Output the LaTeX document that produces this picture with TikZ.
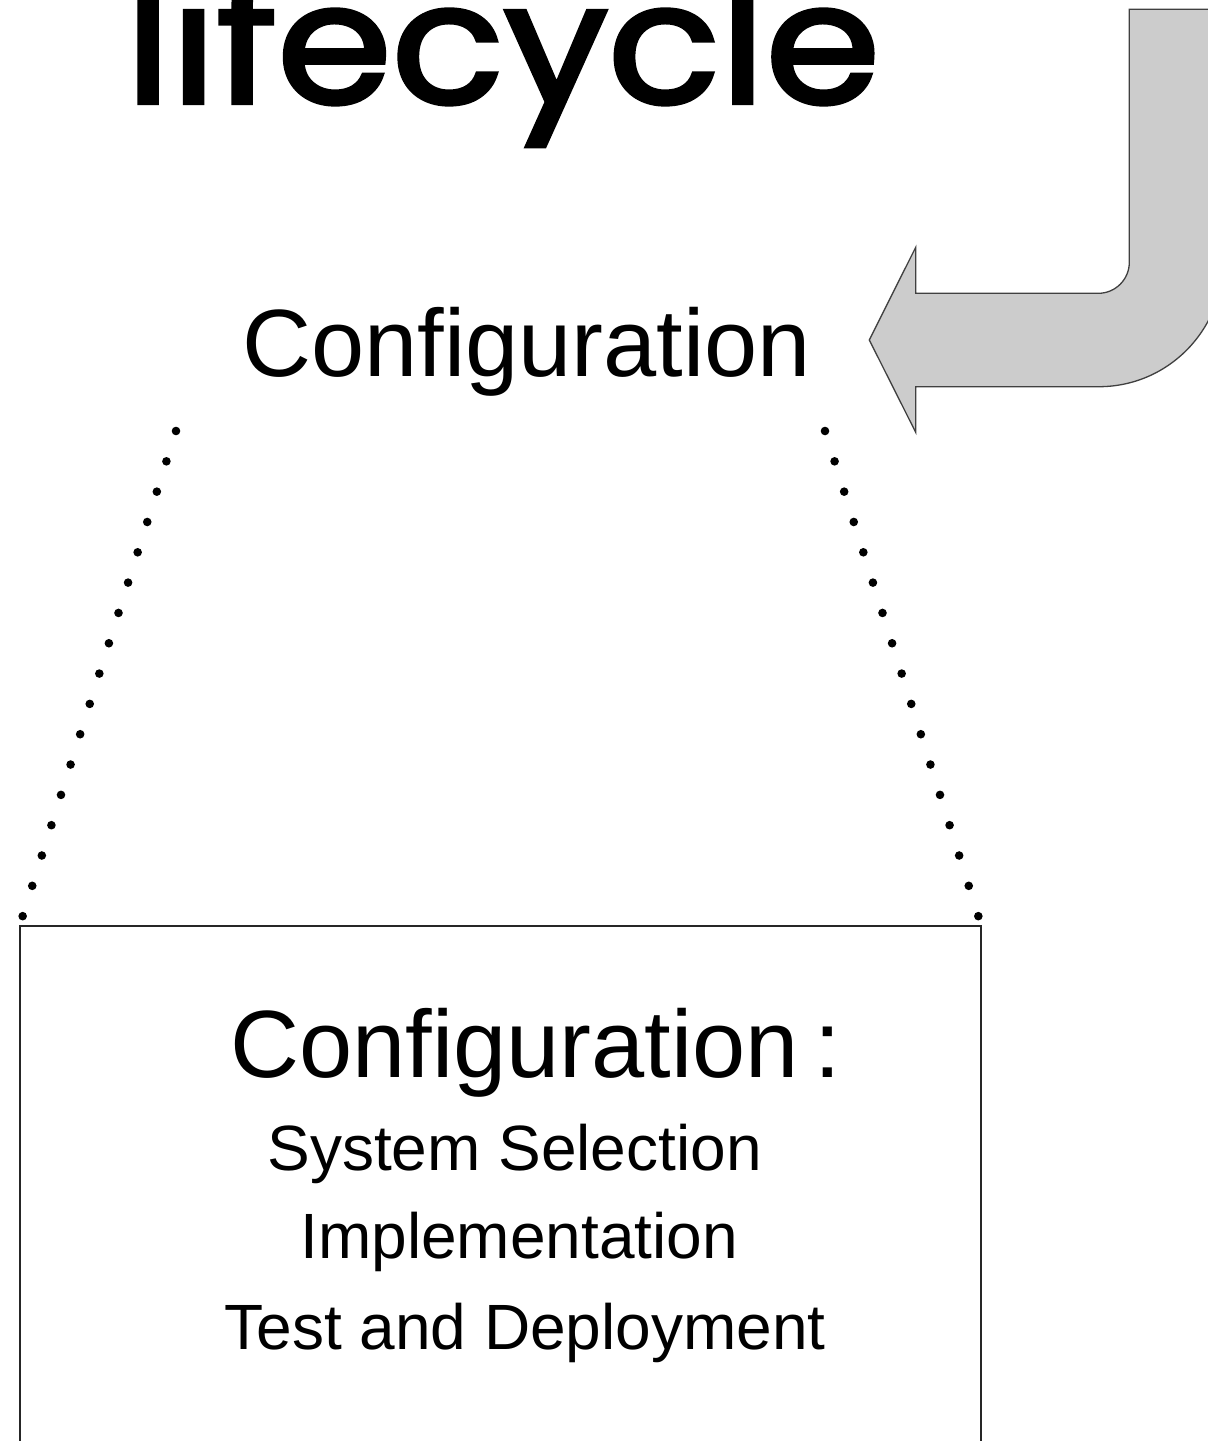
\documentclass[tikz,border=0pt]{standalone}
\usepackage{fontspec}
\setmainfont{Liberation Sans}
\newfontfamily\handfont[FakeBold=2.5]{Poppins}

\begin{document}
\begin{tikzpicture}[
    x=0.5pt, y=-0.5pt,
    heading/.style={font=\fontsize{47.8}{50}\selectfont, anchor=base west, inner sep=0pt},
    item/.style={font=\fontsize{32}{34}\selectfont, anchor=base west, inner sep=0pt},
    dots/.style={line width=4.3pt, line cap=round, dash pattern=on 0pt off 15.9pt},
    bentarrow/.style={draw=black!75, fill=black!20, line width=0.65pt, line join=miter}
]
\useasboundingbox (0,0) rectangle (1208,1441);

\node[anchor=base west, inner sep=0pt, xscale=1.1, font=\handfont\fontsize{84}{84}\selectfont] (title) at (125,103) {lifecycle};

\node[heading] (config) at (242,376) {Configuration};

% bent arrow coming back down into the phase
\draw[bentarrow] (1129.3,9.3) -- (1129.3,262.3) arc[start angle=0, end angle=-90, radius=15.5pt]
    -- (915.7,293.3) -- (915.7,247.3) -- (869.3,340) -- (915.7,432.3) -- (915.7,386.7)
    -- (1098.7,386.7) arc[start angle=-90, end angle=0, radius=62pt]
    -- (1222.7,9.3) -- cycle;

% detail box, runs off the bottom
\draw[black!85, line width=0.8pt] (20,926) rectangle (981,1470);
\node[heading] (boxhead) at (230,1077) {Configuration\kern0.16em:};
\node[item] (select) at (267,1170) {System Selection};
\node[item] (impl) at (300,1258.5) {Implementation};
\node[item] (deploy) at (224,1349) {Test and Deployment};

\coordinate (ltop) at (176,431);
\coordinate (lbot) at (22.3,917.3);
\coordinate (rtop) at (825,431);
\coordinate (rbot) at (978.7,917.3);
\draw[dots] (ltop) -- (lbot);
\draw[dots] (rtop) -- (rbot);

\end{tikzpicture}
\end{document}
